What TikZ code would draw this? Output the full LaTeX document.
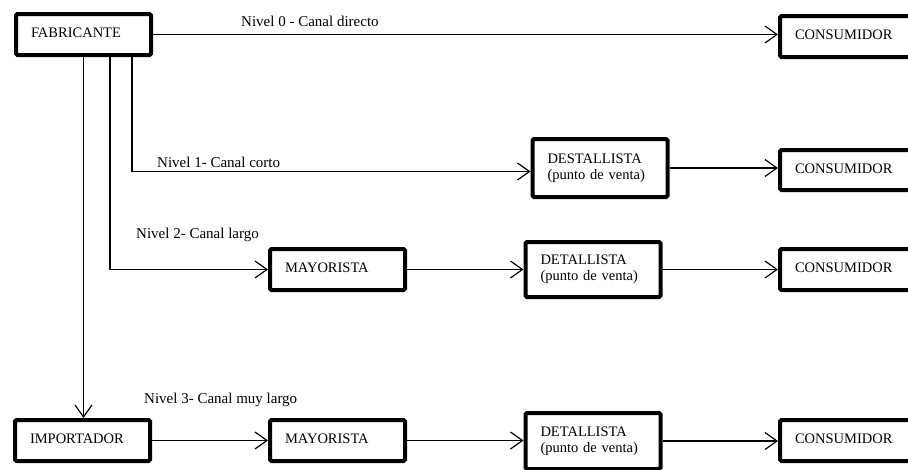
\documentclass[tikz,border=0pt]{standalone}
\usepackage{fontspec}
\setmainfont{Liberation Serif}
\usetikzlibrary{arrows.meta}

\tikzset{
  box/.style={draw, line width=4pt, rounded corners=1.5pt, fill=white,
    inner xsep=15pt, inner ysep=0pt, text width=105pt, align=left,
    font=\fontsize{14.5}{16}\selectfont},
  onebox/.style={box, minimum height=41pt, text height=10pt, text depth=4pt},
  twobox/.style={box},
  conn/.style={line width=1.2pt},
  arr/.style={conn, -{Straight Barb[length=12pt,width=17pt]}},
  lvl/.style={anchor=base west, inner sep=0pt, font=\fontsize{15}{17}\selectfont}
}

\begin{document}
\begin{tikzpicture}[x=1pt, y=-1pt]
  \useasboundingbox (0,0) rectangle (908,469);
  \clip (0,0) rectangle (908,469);

  % channel members
  \node[onebox] (fab)   at (83.5,34.5)  {FABRICANTE};
  \node[onebox] (cons1) at (847.5,36.5) {CONSUMIDOR};

  \node[twobox, minimum height=58pt] (dest) at (600,168) {DESTALLISTA\\(punto de venta)};
  \node[onebox, minimum height=40pt] (cons2) at (847.5,170) {CONSUMIDOR};

  \node[onebox] (may1) at (337.5,269.5) {MAYORISTA};
  \node[twobox, minimum height=55pt] (det1) at (593,269.5) {DETALLISTA\\(punto de venta)};
  \node[onebox] (cons3) at (847.5,269.5) {CONSUMIDOR};

  \node[onebox] (imp)  at (82.5,440.5) {IMPORTADOR};
  \node[onebox] (may2) at (337.5,440.5) {MAYORISTA};
  \node[twobox, minimum height=56pt] (det2) at (593,441) {DETALLISTA\\(punto de venta)};
  \node[onebox] (cons4) at (847.5,440.5) {CONSUMIDOR};

  % level captions
  \node[lvl] (l0) at (241,26.5) {Nivel 0 - Canal directo};
  \node[lvl] (l1) at (157,167)  {Nivel 1- Canal corto};
  \node[lvl] (l2) at (136,238)  {Nivel 2- Canal largo};
  \node[lvl] (l3) at (144,403)  {Nivel 3- Canal muy largo};

  % level 0
  \draw[arr] (fab.east) -- (fab.east -| cons1.west);
  % level 1
  \draw[arr] ([xshift=48.5pt]fab.south) |- ([yshift=-3.5pt]dest.west);
  \draw[arr] (dest.east) -- (dest.east -| cons2.west);
  % level 2
  \draw[arr] ([xshift=26.5pt]fab.south) |- (may1.west);
  \draw[arr] (may1.east) -- (det1.west);
  \draw[arr] (det1.east) -- (cons3.west);
  % level 3
  \draw[arr] (fab.south) -- (fab.south |- imp.north);
  \draw[arr] (imp.east) -- (may2.west);
  \draw[arr] (may2.east) -- (may2.east -| det2.west);
  \draw[arr] (det2.east) -- (det2.east -| cons4.west);
\end{tikzpicture}
\end{document}
